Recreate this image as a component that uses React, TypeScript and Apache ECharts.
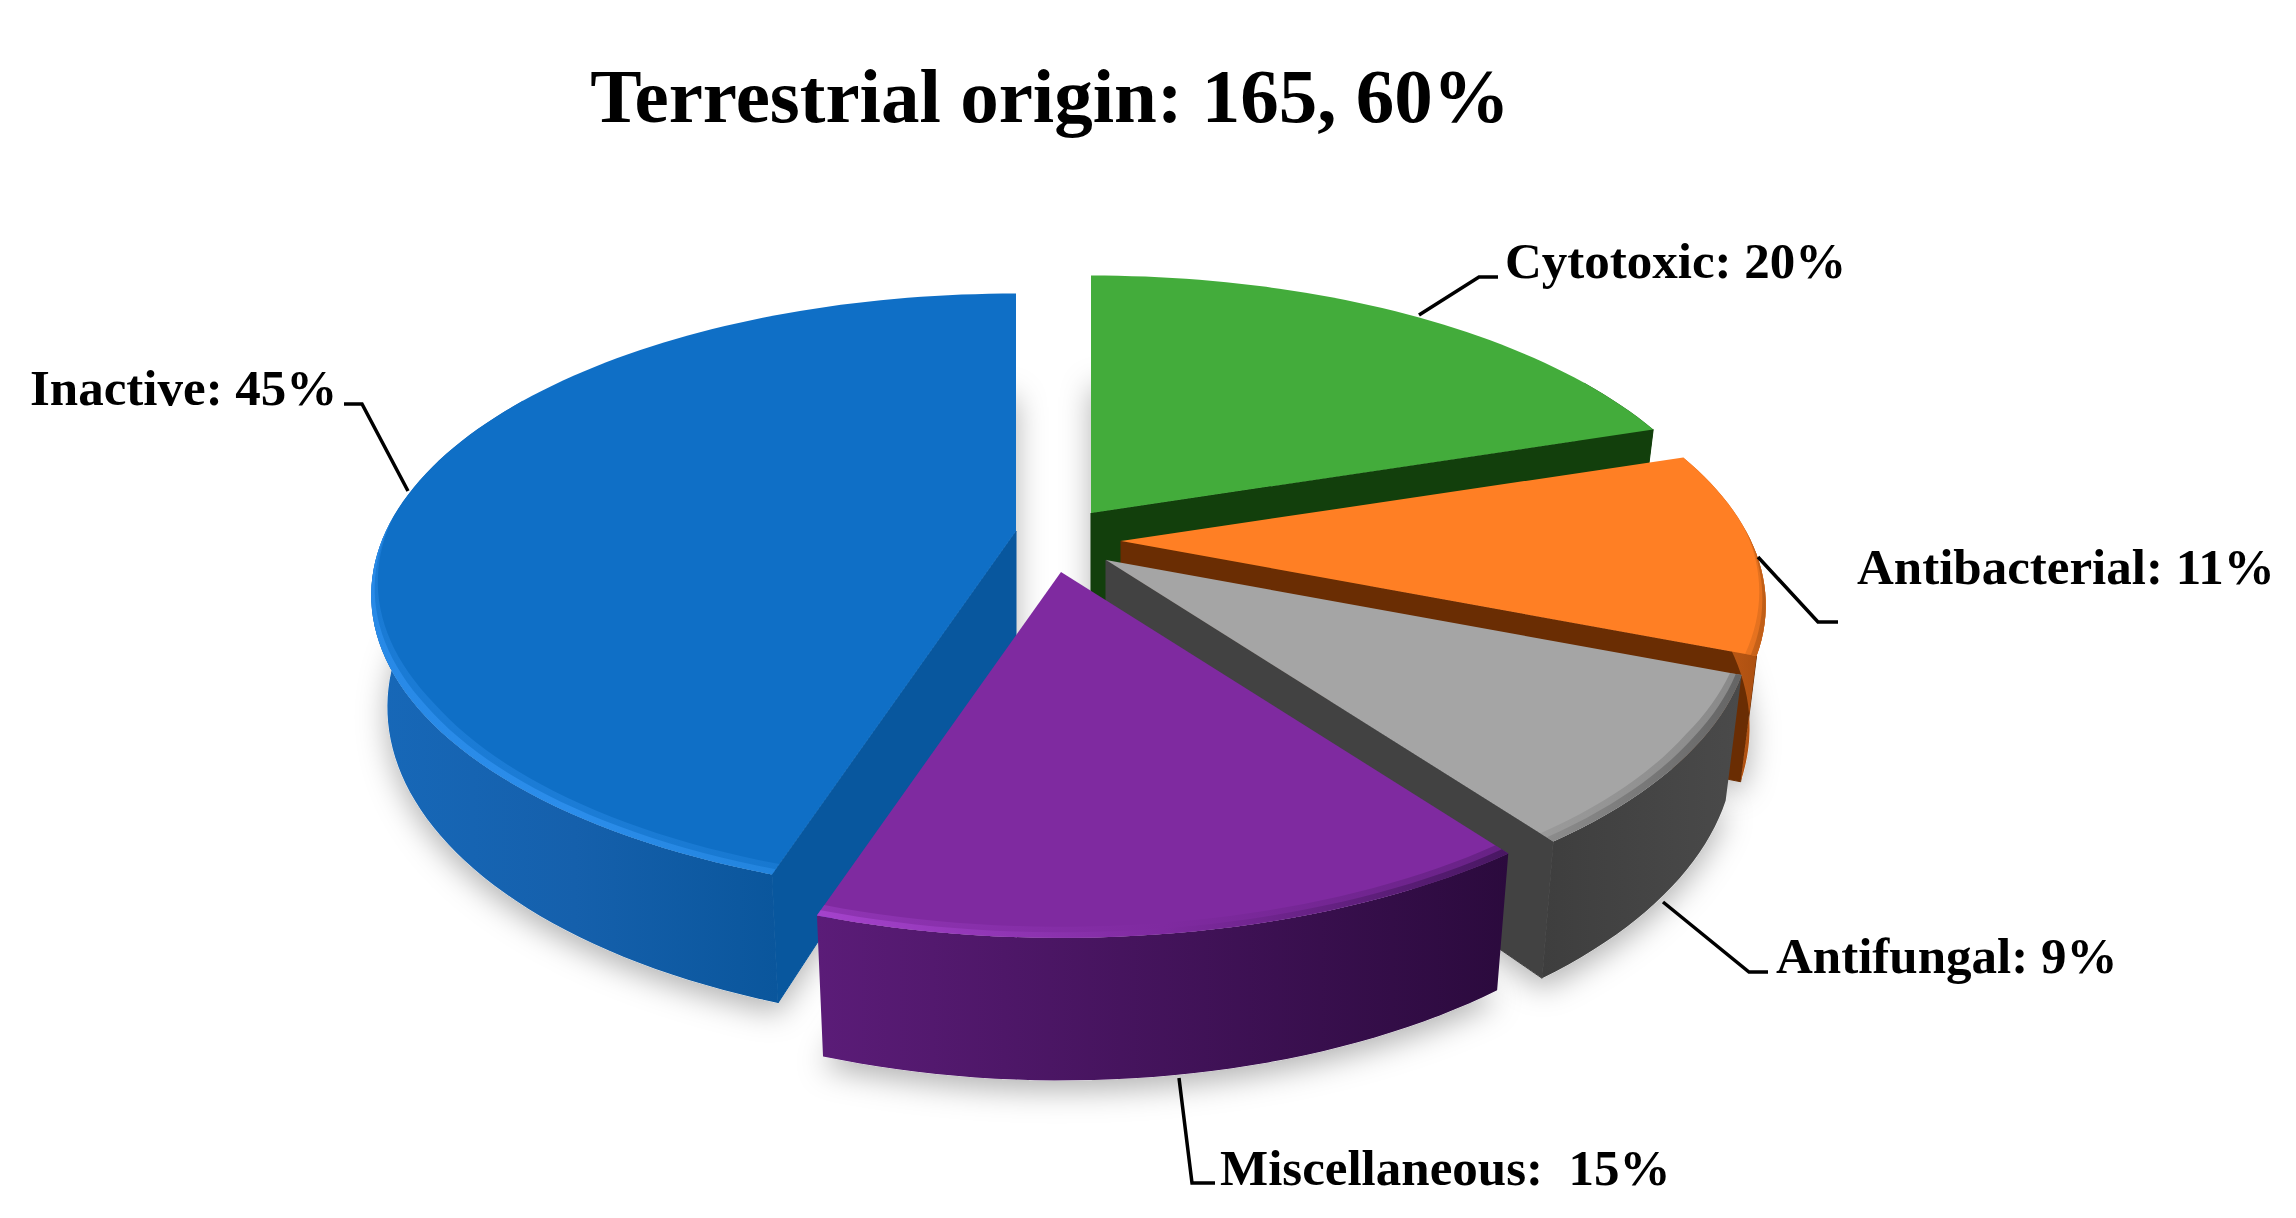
import React, { useEffect, useRef } from "react";
import * as echarts from "echarts";

// ---- data ----
const categories = ["Cytotoxic", "Antibacterial", "Antifungal", "Miscellaneous", "Inactive"];
const values = [20, 11, 9, 15, 45];
const labelSeparators = [": ", ": ", ": ", ":  ", ": "];
const titleText = "Terrestrial origin: 165, 60%";

// ---- layout and style, indexed like categories ----
const DRAW_ORDER = [0, 1, 2, 4, 3];
const APEX = [[1091, 513], [1121, 541], [1106, 560], [1061, 572], [1016, 531]];
const WALL_HEIGHT = [118, 118, 118, 118, 108];
const KX = 630, KY = 288, DEPTH = 4.7, SHRINK_X = 0.975, SHRINK_Y = 0.98;
const TOP_COLOR = ["#43AC3B", "#FF7F24", "#A5A5A5", "#7F2AA0", "#0F6FC6"];
const RADIAL_COLOR = ["#123F0C", "#6A2D03", "#424242", "#2C0A3E", "#08579E"];
const WALL_STOPS = [
  ["#123F0C", "#123F0C"],
  ["#D9661A", "#A84E10"],
  ["#3E3E3E", "#4A4A4A"],
  ["#5B1C78", "#2B0A3D"],
  ["#1768B8", "#1560AC", "#0A569C"],
];
const RIM_STOPS = [
  ["#43AC3B", "#43AC3B"],
  ["#FF7F24", "#B85A16"],
  ["#8A8A8A", "#5E5E5E"],
  ["#A845D0", "#7F2AA0", "#43155C"],
  ["#2A8CEA", "#2E90EE", "#2486E0"],
];
const RIM_WIDTH = 0.012;
const LABEL_FONT = 51;
const LABEL_POS: [number, number][] = [[1505, 261], [1857, 567], [1776, 956], [1220, 1168], [30, 388]];
const LEADERS = [
  [[1498, 277], [1479, 277], [1419, 315]],
  [[1758, 557], [1818, 622], [1838, 622]],
  [[1663, 902], [1749, 972], [1768, 972]],
  [[1179, 1078], [1192, 1183], [1215, 1183]],
  [[344, 404], [362, 404], [408, 491]],
];

const total = values.reduce((a, b) => a + b, 0);
const RAD = Math.PI / 180;

function project(i: number, deg: number, r: number, bottom: boolean): number[] {
  const u = Math.sin(deg * RAD) * r;
  const v = -Math.cos(deg * RAD) * r;
  const s = DEPTH / (DEPTH - v);
  const [ax, ay] = APEX[i];
  const fx = bottom ? SHRINK_X : 1;
  const fy = bottom ? SHRINK_Y : 1;
  return [ax + u * s * KX * fx, ay + v * s * KY * fy + (bottom ? WALL_HEIGHT[i] * s : 0)];
}

function arc(i: number, a0: number, a1: number, r: number | ((d: number) => number), bottom: boolean) {
  const pts: number[][] = [];
  const n = Math.max(2, Math.ceil(Math.abs(a1 - a0) / 1.5));
  for (let k = 0; k <= n; k++) {
    const d = a0 + ((a1 - a0) * k) / n;
    pts.push(project(i, d, typeof r === "function" ? r(d) : r, bottom));
  }
  return pts;
}

function range(i: number) {
  let before = 0;
  for (let k = 0; k < i; k++) before += values[k];
  return [(before / total) * 360, ((before + values[i]) / total) * 360];
}

function hGrad(pts: number[][], stops: string[]) {
  const xs = pts.map((p) => p[0]);
  return {
    type: "linear",
    x: Math.min(...xs),
    y: 0,
    x2: Math.max(...xs),
    y2: 0,
    global: true,
    colorStops: stops.map((c, k) => ({ offset: k / (stops.length - 1), color: c })),
  };
}

function renderShadow(_: any, api: any) {
  const i = api.value(0);
  const [a0, a1] = range(i);
  const pts = [project(i, a0, 0, true), ...arc(i, a0, a1, 1, true)];
  return {
    type: "polygon",
    silent: true,
    shape: { points: pts },
    style: {
      fill: "#ffffff",
      shadowColor: "rgba(0,0,0,0.3)",
      shadowBlur: 30,
      shadowOffsetX: 0,
      shadowOffsetY: 10,
    },
  };
}

function rimBand(i: number, w0: number, w1: number, width: number, opacity: number) {
  const taper = (d: number) => {
    const v = -Math.cos(d * RAD);
    return 1 - width * Math.max(0, Math.min(1, (v + 0.05) / 0.6));
  };
  const outer = arc(i, w0, w1, 1, false);
  const inner = arc(i, w0, w1, taper, false);
  const rim = [...outer, ...inner.reverse()];
  return {
    type: "polygon",
    shape: { points: rim },
    style: { fill: hGrad(rim, RIM_STOPS[i]), opacity },
  };
}

function renderSlice(_: any, api: any) {
  const i = api.value(0);
  const [a0, a1] = range(i);
  const children: any[] = [];
  const top = [project(i, a0, 0, false), ...arc(i, a0, a1, 1, false)];
  // radial cut face that looks toward the viewer
  const cut = a0 > 180 ? a0 : a1;
  if (i !== 3) {
    children.push({
      type: "polygon",
      shape: {
        points: [project(i, cut, 0, false), project(i, cut, 1, false), project(i, cut, 1, true), project(i, cut, 0, true)],
      },
      style: { fill: RADIAL_COLOR[i], stroke: RADIAL_COLOR[i], lineWidth: 1 },
    });
  }
  // outer curved wall
  const w0 = Math.max(a0, 60);
  const w1 = Math.min(a1, 300);
  if (w1 > w0) {
    const upper = arc(i, w0, w1, 1, false);
    const lower = arc(i, w0, w1, 1, true);
    const wall = [...upper, ...lower.reverse()];
    children.push({
      type: "polygon",
      shape: { points: wall },
      style: { fill: hGrad(wall, WALL_STOPS[i]) },
    });
  }
  children.push({
    type: "polygon",
    shape: { points: top },
    style: { fill: TOP_COLOR[i] },
  });
  // soft bevel along the front rim
  if (w1 > w0 && i !== 0) {
    children.push(rimBand(i, w0, w1, RIM_WIDTH * 2, 0.4));
    children.push(rimBand(i, w0, w1, RIM_WIDTH, 0.85));
  }
  return { type: "group", silent: true, children };
}

function renderLabel(_: any, api: any) {
  const i = api.value(0);
  return {
    type: "group",
    silent: true,
    children: [
      {
        type: "polyline",
        shape: { points: LEADERS[i] },
        style: { fill: "none", stroke: "#000000", lineWidth: 3.5 },
      },
      {
        type: "text",
        x: LABEL_POS[i][0],
        y: LABEL_POS[i][1],
        style: {
          text: `${categories[i]}${labelSeparators[i]}${api.value(1)}%`,
          fill: "#000000",
          font: `bold ${LABEL_FONT}px "Liberation Serif"`,
          align: "left",
          verticalAlign: "middle",
        },
      },
    ],
  };
}

export default function App() {
  const ref = useRef<HTMLDivElement>(null);
  useEffect(() => {
    document.body.style.margin = "0";
    const chart = echarts.init(ref.current!, undefined, { renderer: "svg" });
    const data = DRAW_ORDER.map((i) => [i, values[i]]);
    chart.setOption({
      animation: false,
      backgroundColor: "#ffffff",
      title: {
        text: titleText,
        left: 1045,
        top: 52,
        textAlign: "center",
        textStyle: { fontFamily: "Liberation Serif", fontWeight: "bold", fontSize: 77, color: "#000000" },
      },
      series: [
        { type: "custom", coordinateSystem: "none", z: 1, data, renderItem: renderShadow },
        { type: "custom", coordinateSystem: "none", z: 2, data, renderItem: renderSlice },
        { type: "custom", coordinateSystem: "none", z: 3, data, renderItem: renderLabel },
      ],
    });
    return () => chart.dispose();
  }, []);
  return <div ref={ref} style={{ position: "absolute", left: 0, top: 0, width: 2296, height: 1218 }} />;
}
